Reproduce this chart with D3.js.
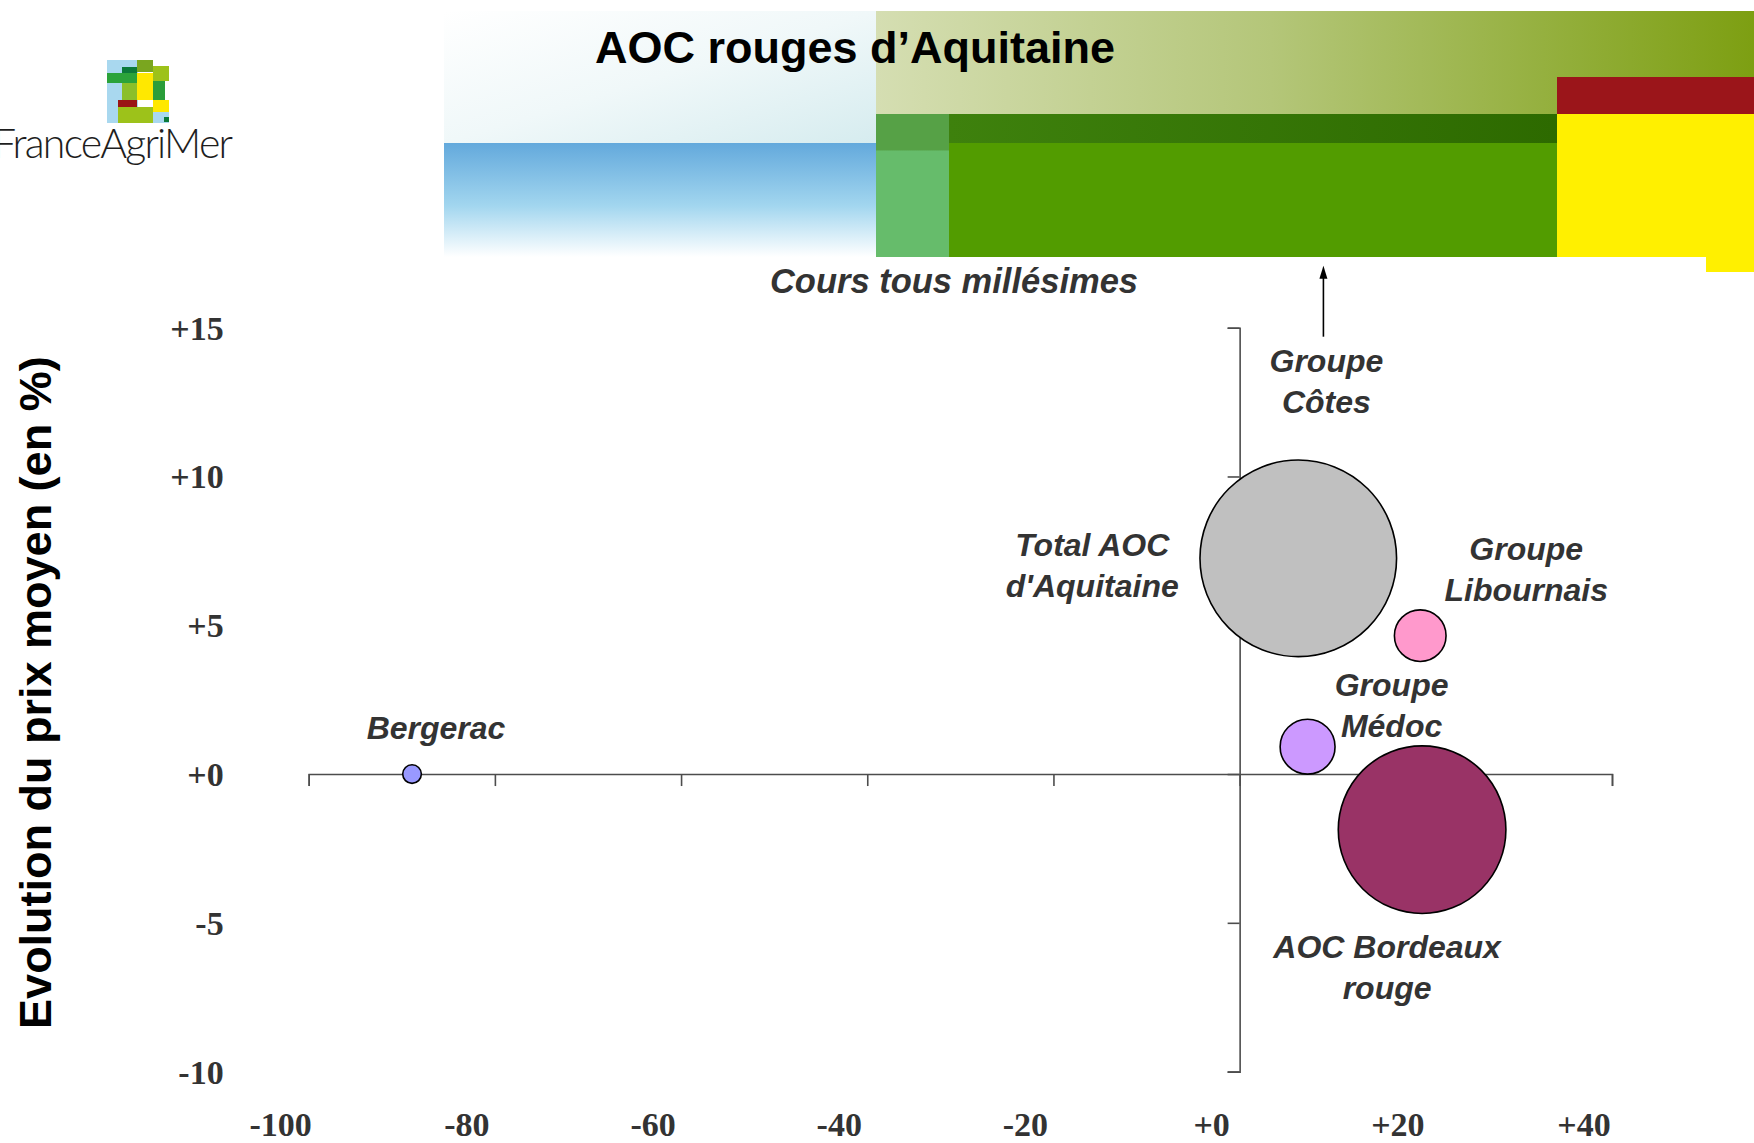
<!DOCTYPE html>
<html><head><meta charset="utf-8">
<script src="https://cdn.jsdelivr.net/npm/d3@7"></script>
<style>html,body{margin:0;padding:0;background:#fff;}svg{display:block;}</style>
</head><body>
<script>
// ---- data ----
const names = ["Bergerac", "Total AOC d'Aquitaine", "Groupe Libournais", "Groupe Médoc", "AOC Bordeaux rouge"];
const labelLines = [["Bergerac"], ["Total AOC", "d'Aquitaine"], ["Groupe", "Libournais"], ["Groupe", "Médoc"], ["AOC Bordeaux", "rouge"]];
const volumeEvol = [-88.9, 6.3, 19.4, 7.3, 19.6];      // x : évolution des volumes (%)
const priceEvol = [0.0, 7.25, 4.65, 0.92, -1.87];     // y : évolution du prix moyen (%)
const volumes = [0.9, 100, 6.9, 7.8, 72.7];            // bubble size (relative volume)
const offChartName = ["Groupe", "Côtes"];              // point beyond the top of the chart
const offChartX = 9.0;
const xTicks = [-100, -80, -60, -40, -20, 0, 20, 40];
const yTicks = [-10, -5, 0, 5, 10, 15];
const fmt = v => (v < 0 ? String(v) : "+" + v);

// ---- style ----
const bubbleColors = ["#9999ff", "#c0c0c0", "#ff99cc", "#cc99ff", "#993366"];
const labelOffsets = [[24, -35], [-206, -2], [106, -76], [84, -51], [-35, 128]];
const W = 1754, H = 1143;

const svg = d3.select("body").append("svg").attr("width", W).attr("height", H);
const defs = svg.append("defs");
function lg(id, x1, y1, x2, y2, stops) {
  const g = defs.append("linearGradient").attr("id", id)
    .attr("x1", x1).attr("y1", y1).attr("x2", x2).attr("y2", y2);
  stops.forEach(s => g.append("stop").attr("offset", s[0]).attr("stop-color", s[1]));
}
lg("gWhite", 0, 0, 1, 1, [[0, "#ffffff"], [0.5, "#f0f8f9"], [1, "#d6ecef"]]);
lg("gBlue", 0, 0, 0, 1, [[0, "#63a9dc"], [0.55, "#a2d6ef"], [1, "#ffffff"]]);
lg("gOlive", 0, 0, 1, 0, [[0, "#d5deb2"], [0.45, "#b4c679"], [1, "#7d9f12"]]);
lg("gDark", 0, 0, 1, 0, [[0, "#3e810d"], [1, "#2d6a00"]]);
lg("gLight", 0, 0, 0, 1, [[0, "#56a146"], [0.25, "#56a146"], [0.26, "#66bc6b"], [1, "#66bc6b"]]);

// ---- banner ----
const ban = svg.append("g");
ban.append("rect").attr("x", 444).attr("y", 11).attr("width", 432).attr("height", 132).attr("fill", "url(#gWhite)");
ban.append("rect").attr("x", 444).attr("y", 143).attr("width", 432).attr("height", 114).attr("fill", "url(#gBlue)");
ban.append("rect").attr("x", 876).attr("y", 11).attr("width", 878).attr("height", 103).attr("fill", "url(#gOlive)");
ban.append("rect").attr("x", 1557).attr("y", 77).attr("width", 197).attr("height", 37).attr("fill", "#9b151a");
ban.append("rect").attr("x", 1557).attr("y", 114).attr("width", 197).attr("height", 143).attr("fill", "#fff000");
ban.append("rect").attr("x", 1706).attr("y", 250).attr("width", 48).attr("height", 22).attr("fill", "#fff000");
ban.append("rect").attr("x", 876).attr("y", 114).attr("width", 73).attr("height", 143).attr("fill", "url(#gLight)");
ban.append("rect").attr("x", 949).attr("y", 114).attr("width", 608).attr("height", 29).attr("fill", "url(#gDark)");
ban.append("rect").attr("x", 949).attr("y", 143).attr("width", 608).attr("height", 114).attr("fill", "#529c00");

// ---- logo ----
const logo = svg.append("g");
[[107, 60, 31, 63, "#a9d8ef"], [137, 60, 16, 12, "#7aa61f"], [153, 66, 16, 15, "#9dc21a"],
 [122, 67, 15, 6, "#0b7a3a"], [107, 73, 30, 10, "#2ba33a"], [137, 73, 16, 27, "#ffe800"],
 [122, 83, 15, 17, "#8bbf2a"], [153, 81, 12, 19, "#2a9d3a"], [118, 100, 19, 7, "#9a1515"],
 [153, 100, 16, 12, "#ffe800"], [118, 107, 35, 16, "#9dc21a"], [153, 112, 16, 11, "#a9d8ef"],
 [164, 117, 5, 5, "#0b7a3a"]].forEach(r => logo.append("rect").attr("x", r[0]).attr("y", r[1])
   .attr("width", r[2]).attr("height", r[3]).attr("fill", r[4]));
logo.append("text").attr("x", 233).attr("y", 158).attr("text-anchor", "end")
  .attr("font-family", "Lato, 'Open Sans', sans-serif").attr("font-weight", 300)
  .attr("font-size", 41).attr("fill", "#1e1e1e").attr("textLength", 240).text("FranceAgriMer");

// ---- titles ----
svg.append("text").attr("x", 855).attr("y", 63).attr("text-anchor", "middle")
  .attr("font-family", "'Liberation Sans', Arial, sans-serif").attr("font-weight", "bold")
  .attr("font-size", 45).attr("fill", "#000").text("AOC rouges d’Aquitaine");
svg.append("text").attr("x", 954).attr("y", 293).attr("text-anchor", "middle")
  .attr("font-family", "'Liberation Sans', Arial, sans-serif").attr("font-weight", "bold")
  .attr("font-style", "italic").attr("font-size", 34.5).attr("fill", "#333").text("Cours tous millésimes");

// ---- scales ----
const x = d3.scaleLinear().domain([-100, 40]).range([308.7, 1612]);
const y = d3.scaleLinear().domain([-10, 15]).range([1071.6, 327.7]);
const r = d3.scaleSqrt().domain([0, 100]).range([0, 98.3]);

const axisColor = "#4d4d4d";
const gx = svg.append("g").attr("transform", `translate(0,${y(0)})`)
  .call(d3.axisBottom(x).tickValues(xTicks).tickSize(12).tickFormat(""));
const gy = svg.append("g").attr("transform", `translate(${x(0)},0)`)
  .call(d3.axisLeft(y).tickValues(yTicks).tickSize(12).tickFormat(""));
[gx, gy].forEach(g => { g.selectAll("path,line").attr("stroke", axisColor).attr("stroke-width", 1.6); });

// tick labels (placed "low" like the original)
svg.append("g").selectAll("text").data(xTicks).join("text")
  .attr("x", d => x(d) - 28).attr("y", y(-10) + 64).attr("text-anchor", "middle")
  .attr("font-family", "'Liberation Serif', 'Times New Roman', serif").attr("font-weight", "bold")
  .attr("font-size", 34).attr("fill", "#333").text(fmt);
svg.append("g").selectAll("text").data(yTicks).join("text")
  .attr("x", x(-100) - 85).attr("y", d => y(d)).attr("dy", "0.35em").attr("text-anchor", "end")
  .attr("font-family", "'Liberation Serif', 'Times New Roman', serif").attr("font-weight", "bold")
  .attr("font-size", 34).attr("fill", "#333").text(fmt);

// axis title
svg.append("text").attr("transform", `translate(51,${(y(15) + y(-10)) / 2 - 7}) rotate(-90)`)
  .attr("text-anchor", "middle").attr("font-family", "'Liberation Sans', Arial, sans-serif")
  .attr("font-weight", "bold").attr("font-size", 45).attr("fill", "#000")
  .text("Evolution du prix moyen (en %)");

// ---- bubbles ----
const pts = names.map((n, i) => ({ n, i, vx: volumeEvol[i], vy: priceEvol[i], v: volumes[i] }));
svg.append("g").selectAll("circle").data(pts).join("circle")
  .attr("cx", d => x(d.vx)).attr("cy", d => y(d.vy)).attr("r", d => r(d.v))
  .attr("fill", d => bubbleColors[d.i]).attr("stroke", "#000").attr("stroke-width", 1.6);

const labFont = sel => sel.attr("font-family", "'Liberation Sans', Arial, sans-serif")
  .attr("font-weight", "bold").attr("font-style", "italic").attr("font-size", 32)
  .attr("fill", "#333").attr("text-anchor", "middle");
pts.forEach(d => {
  const t = svg.append("text").call(labFont);
  labelLines[d.i].forEach((ln, k) => t.append("tspan")
    .attr("x", x(d.vx) + labelOffsets[d.i][0])
    .attr("y", y(d.vy) + labelOffsets[d.i][1] + k * 41).text(ln));
});

// off-chart point (Groupe Côtes) : arrow pointing upward
const ax = x(offChartX), aTop = y(15) - 62;
svg.append("line").attr("x1", ax).attr("x2", ax)
  .attr("y1", y(15) + 9).attr("y2", aTop + 10).attr("stroke", "#000").attr("stroke-width", 1.6);
svg.append("path").attr("d", `M${ax - 4},${aTop + 13} L${ax},${aTop} L${ax + 4},${aTop + 13} Z`).attr("fill", "#000");
const tc = svg.append("text").call(labFont);
offChartName.forEach((ln, k) => tc.append("tspan").attr("x", ax + 3)
  .attr("y", y(15) + 44 + k * 41).text(ln));
</script>
</body></html>
